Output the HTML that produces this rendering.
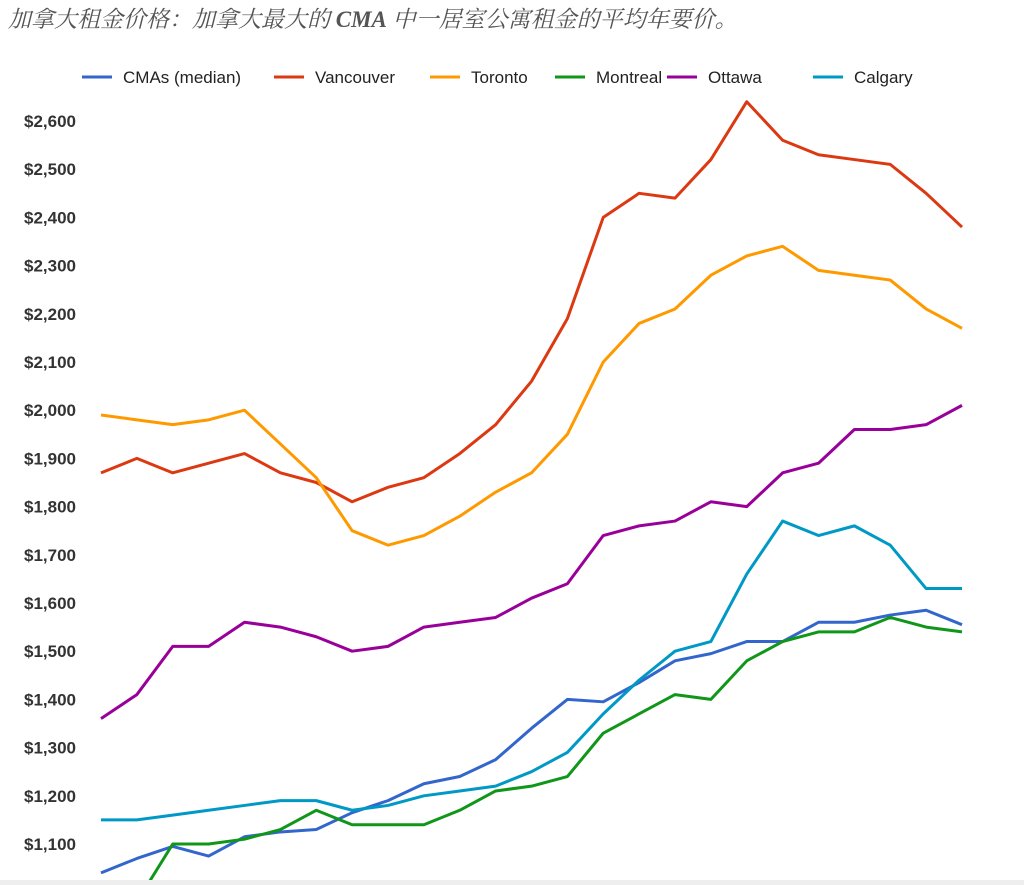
<!DOCTYPE html>
<html><head><meta charset="utf-8">
<style>
body{margin:0;background:#fff;width:1024px;height:885px;overflow:hidden;position:relative}
#title{position:absolute;left:8px;top:1px;font-family:"Liberation Serif","Noto Serif CJK SC",serif;font-style:italic;font-size:23px;color:#555;white-space:nowrap}
#bottom{position:absolute;left:0;top:880px;width:1024px;height:5px;background:#eee}
svg{position:absolute;left:0;top:0}
</style></head><body>
<div id="title">加拿大租金价格：加拿大最大的 <b>CMA</b> 中一居室公寓租金的平均年要价。</div>
<svg id="chart" width="1024" height="880"></svg>
<div id="bottom"></div>
<script>
const seriesNames=["CMAs (median)","Vancouver","Toronto","Montreal","Ottawa","Calgary"];
const colors=["#3366cc","#dc3912","#ff9900","#109618","#990099","#0099c6"];
const cmas=[1040,1070,1095,1075,1115,1125,1130,1165,1190,1225,1240,1275,1340,1400,1395,1435,1480,1495,1520,1520,1560,1560,1575,1585,1555];
const vancouver=[1870,1900,1870,1890,1910,1870,1850,1810,1840,1860,1910,1970,2060,2190,2400,2450,2440,2520,2640,2560,2530,2520,2510,2450,2380];
const toronto=[1990,1980,1970,1980,2000,1930,1860,1750,1720,1740,1780,1830,1870,1950,2100,2180,2210,2280,2320,2340,2290,2280,2270,2210,2170];
const montreal=[950,980,1100,1100,1110,1130,1170,1140,1140,1140,1170,1210,1220,1240,1330,1370,1410,1400,1480,1520,1540,1540,1570,1550,1540];
const ottawa=[1360,1410,1510,1510,1560,1550,1530,1500,1510,1550,1560,1570,1610,1640,1740,1760,1770,1810,1800,1870,1890,1960,1960,1970,2010];
const calgary=[1150,1150,1160,1170,1180,1190,1190,1170,1180,1200,1210,1220,1250,1290,1370,1440,1500,1520,1660,1770,1740,1760,1720,1630,1630];
const yTicks=[1100,1200,1300,1400,1500,1600,1700,1800,1900,2000,2100,2200,2300,2400,2500,2600];
const allSeries=[cmas,vancouver,toronto,montreal,ottawa,calgary];
const NS="http://www.w3.org/2000/svg";
const svg=document.getElementById('chart');
const x=i=>101+i*(962-101)/(cmas.length-1);
const y=v=>844-(v-1100)*(844-121)/1500;
function mk(t,a){const e=document.createElementNS(NS,t);for(const k in a)e.setAttribute(k,a[k]);svg.appendChild(e);return e;}
yTicks.forEach(v=>{
  const t=mk('text',{x:76,y:y(v)+6,'text-anchor':'end','font-family':'Liberation Sans, sans-serif','font-size':17,'font-weight':'bold',fill:'#333'});
  t.textContent='$'+v.toLocaleString('en-US');
  
  
});
const lx=[82,274,430,555,667,813];
seriesNames.forEach((n,i)=>{
  const l=mk('line',{x1:lx[i],y1:77,x2:lx[i]+30,y2:77,stroke:colors[i],'stroke-width':3});
  
  
  const t=mk('text',{x:lx[i]+41,y:83,'font-family':'Liberation Sans, sans-serif','font-size':17,fill:'#222'});
  t.textContent=n;
  
  
});
allSeries.forEach((s,i)=>{
  const p=mk('polyline',{points:s.map((v,j)=>x(j)+','+y(v)).join(' '),fill:'none',stroke:colors[i],'stroke-width':3,'stroke-linejoin':'round'});
  
  
});
</script>
</body></html>
